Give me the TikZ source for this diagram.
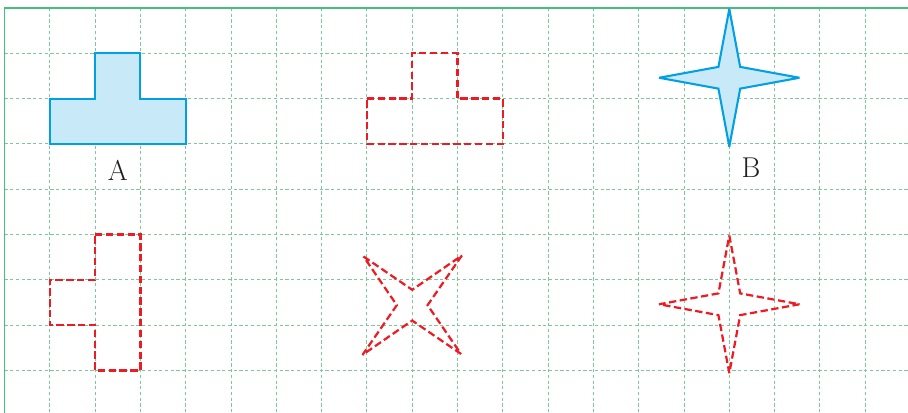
\documentclass[tikz,border=0pt]{standalone}
\definecolor{gridgreen}{RGB}{125,200,155}
\definecolor{bordergreen}{RGB}{70,190,125}
\definecolor{shapeblue}{RGB}{0,160,227}
\definecolor{fillblue}{RGB}{200,233,248}
\definecolor{dashred}{RGB}{237,28,36}
\definecolor{labelgray}{RGB}{35,31,32}
\begin{document}
\begin{tikzpicture}[x=1cm,y=-1cm,
  gridline/.style={draw=gridgreen, line width=0.6pt, dash pattern=on 2pt off 1.6pt},
  border/.style={draw=bordergreen, line width=0.9pt},
  solidshape/.style={draw=shapeblue, fill=fillblue, line width=1.3pt, line join=miter, miter limit=2},
  imageshape/.style={draw=dashred, line width=1.4pt, dash pattern=on 4.6pt off 2.2pt, miter limit=2},
  lbl/.style={text=labelgray, font=\fontsize{18}{20}\selectfont, inner sep=0pt},
  star4/.pic={\path[pic actions] (0,-1.52) -- (0.24,-0.24) -- (1.55,0) -- (0.24,0.24)
     -- (0,1.52) -- (-0.24,0.24) -- (-1.55,0) -- (-0.24,-0.24) -- cycle;}]
\useasboundingbox (-0.0993,-0.1766) rectangle (19.945,8.94);
% grid
\foreach \i in {1,...,19} \draw[gridline] (\i,0) -- (\i,8.94);
\foreach \j in {1,...,8} \draw[gridline] (0,\j) -- (19.945,\j);
\draw[border] (19.945,0) -- (0,0) -- (0,8.94);
% shape A
\draw[solidshape] (1,2) -- (2,2) -- (2,1) -- (3,1) -- (3,2) -- (4,2) -- (4,3) -- (1,3) -- cycle;
\node[lbl] (labelA) at (2.5,3.58) {A};
% translated A
\draw[imageshape] (8,2) -- (9,2) -- (9,1) -- (10,1) -- (10,2) -- (11,2) -- (11,3) -- (8,3) -- cycle;
% rotated A
\draw[imageshape] (2,5) -- (3,5) -- (3,8) -- (2,8) -- (2,7) -- (1,7) -- (1,6) -- (2,6) -- cycle;
% shape B
\pic[solidshape] at (16,1.54) {star4};
\node[lbl] (labelB) at (16.48,3.53) {B};
% rotated B
\pic[imageshape, rotate=45] at (9,6.56) {star4};
% translated B
\pic[imageshape] at (16,6.54) {star4};
\end{tikzpicture}
\end{document}
